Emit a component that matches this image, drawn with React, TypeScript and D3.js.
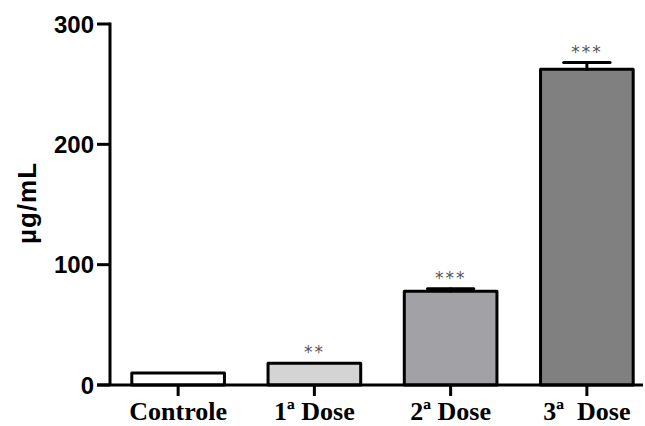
import React from "react";
import * as d3 from "d3";

const categories = ["Controle", "1ª Dose", "2ª Dose", "3ª  Dose"];
const values = [10, 18, 78, 262.5];
const errors = [0, 0, 2, 5.5];
const stars = ["", "**", "***", "***"];
const fills = ["#ffffff", "#d4d4d4", "#a2a2a6", "#808080"];
const yTicks = [0, 100, 200, 300];

const W = 645;
const H = 426;

export default function App() {
  const x = d3
    .scaleBand<string>()
    .domain(categories)
    .range([110, 655])
    .paddingInner(0.32)
    .paddingOuter(0.16);
  const y = d3.scaleLinear().domain([0, 300]).range([385, 24]);
  const bw = x.bandwidth();

  return (
    <svg
      width={W}
      height={H}
      style={{ position: "absolute", left: 0, top: 0, background: "#fff" }}
    >
      {/* bars */}
      {categories.map((c, i) => {
        const x0 = x(c)!;
        const cx = x0 + bw / 2;
        const top = y(values[i]);
        const errTop = y(values[i] + errors[i]);
        return (
          <g key={c}>
            <rect
              x={x0}
              y={top}
              width={bw}
              height={y(0) - top}
              fill={fills[i]}
              stroke="#000"
              strokeWidth={3}
              strokeLinejoin="round"
            />
            {errors[i] > 0 && (
              <g stroke="#000" strokeWidth={3} strokeLinecap="round">
                <line x1={cx} x2={cx} y1={top} y2={errTop} />
                <line x1={cx - bw / 4} x2={cx + bw / 4} y1={errTop} y2={errTop} />
              </g>
            )}
            {stars[i] && (
              <text
                x={cx}
                y={errTop - 5}
                textAnchor="middle"
                fontFamily="DejaVu Sans, sans-serif"
                fontSize={17}
                letterSpacing={2}
                fill="#555"
              >
                {stars[i]}
              </text>
            )}
          </g>
        );
      })}

      {/* y axis */}
      <line x1={110} x2={110} y1={y(300) - 1.5} y2={y(0)} stroke="#000" strokeWidth={3} />
      {yTicks.map((t) => (
        <g key={t}>
          <line x1={97} x2={110} y1={y(t)} y2={y(t)} stroke="#000" strokeWidth={3} />
          <text
            x={94}
            y={y(t)}
            dy="0.36em"
            textAnchor="end"
            fontFamily="Liberation Sans, Arial, sans-serif"
            fontWeight="bold"
            fontSize={24}
            fill="#000"
          >
            {t}
          </text>
        </g>
      ))}

      {/* x axis */}
      <line x1={97} x2={643} y1={y(0)} y2={y(0)} stroke="#000" strokeWidth={3} />
      {categories.map((c) => {
        const cx = x(c)! + bw / 2;
        return (
          <g key={c}>
            <line x1={cx} x2={cx} y1={y(0)} y2={y(0) + 11} stroke="#000" strokeWidth={3} />
            <text
              x={cx}
              y={420}
              textAnchor="middle"
              fontFamily="Liberation Serif, Times New Roman, serif"
              fontWeight="bold"
              fontSize={26}
              fill="#000"
              style={{ whiteSpace: "pre" }}
            >
              {c}
            </text>
          </g>
        );
      })}

      {/* y label */}
      <text
        transform={`translate(36,${203}) rotate(-90)`}
        textAnchor="middle"
        fontFamily="Liberation Sans, Arial, sans-serif"
        fontWeight="bold"
        fontSize={26}
        letterSpacing={1}
        fill="#000"
      >
        µg/mL
      </text>
    </svg>
  );
}
